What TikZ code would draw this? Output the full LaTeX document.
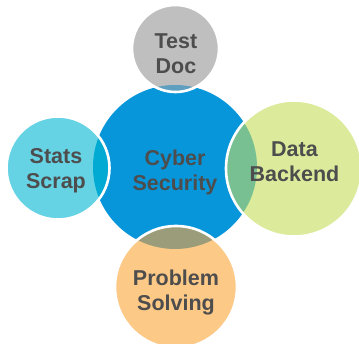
\documentclass[tikz,border=0pt]{standalone}
\usepackage{fontspec}
\setmainfont{Liberation Sans}
\definecolor{cblue}{RGB}{8,150,218}
\definecolor{cgray}{RGB}{191,191,191}
\definecolor{cgraylens}{RGB}{94,158,190}
\definecolor{ccyan}{RGB}{102,211,228}
\definecolor{ccyanlens}{RGB}{0,170,210}
\definecolor{cgreen}{RGB}{219,235,155}
\definecolor{cgreenlens}{RGB}{120,192,145}
\definecolor{corange}{RGB}{253,201,135}
\definecolor{corangelens}{RGB}{154,156,122}
\definecolor{ctext}{RGB}{77,77,77}
\tikzset{
  lbl/.style={align=center,text=ctext,font=\fontsize{21.5}{25}\selectfont\bfseries,inner sep=0pt},
  ring/.style={draw=white,line width=2.6pt}
}
\begin{document}
\begin{tikzpicture}[x=1pt,y=-1pt]
\useasboundingbox (0,0) rectangle (359,343);
\begin{scope}
\clip (0,0) rectangle (359,343);
% central circle
\fill[cblue] (175,167) circle (82);
% outer circles
\fill[cgray] (175.5,48.5) circle (43.5);
\fill[ccyan] (58,168) circle (51.5);
\fill[cgreen] (294,168.5) circle (68);
\fill[corange] (176,287) circle (61);
% lenses
\begin{scope}\clip (175,167) circle (82); \fill[cgraylens] (175.5,48.5) circle (43.5);\end{scope}
\begin{scope}\clip (175,167) circle (82); \fill[ccyanlens] (58,168) circle (51.5);\end{scope}
\begin{scope}\clip (175,167) circle (82); \fill[cgreenlens] (294,168.5) circle (68);\end{scope}
\begin{scope}\clip (175,167) circle (82); \fill[corangelens] (176,287) circle (61);\end{scope}
% white rims
\draw[ring] (175.5,48.5) circle (43.5);
\draw[ring] (58,168) circle (51.5);
\draw[ring] (294,168.5) circle (68);
\draw[ring] (176,287) circle (61);
\end{scope}
% labels
\node[lbl] (test) at (176,54) {Test\\Doc};
\node[lbl] (cyber) at (175,172) {Cyber\\Security};
\node[lbl] (data) at (294.5,162) {Data\\Backend};
\node[lbl] (stats) at (56,171) {Stats\\Scrap};
\node[lbl] (prob) at (176,292) {Problem\\Solving};
\end{tikzpicture}
\end{document}
